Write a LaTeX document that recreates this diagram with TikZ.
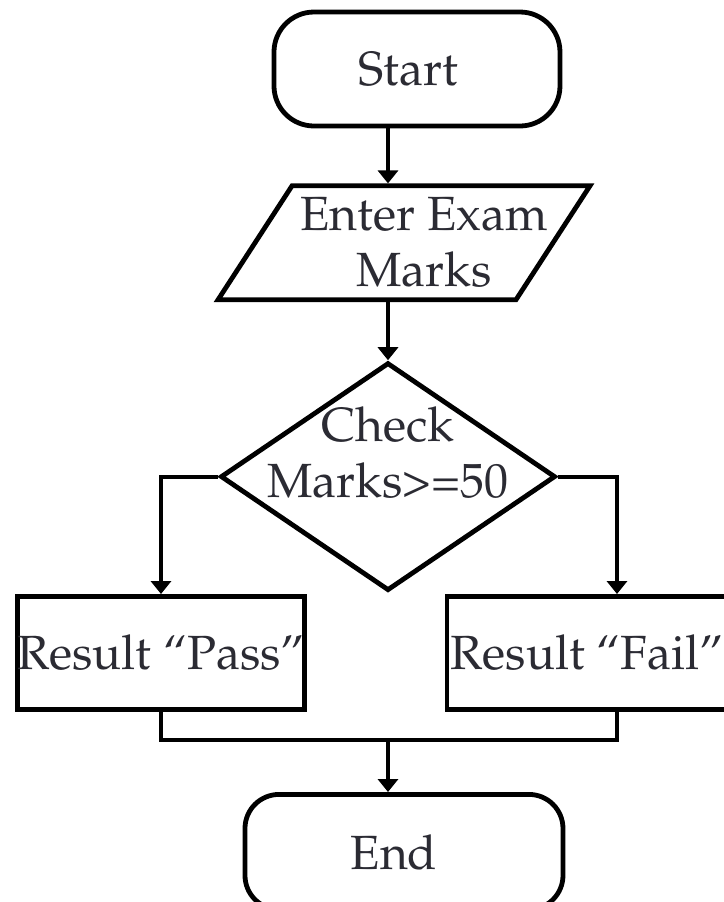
\documentclass[tikz,border=0pt]{standalone}
\usepackage[T1]{fontenc}
\usepackage{mathpazo}
\usetikzlibrary{positioning}
\usetikzlibrary{arrows.meta}
\usetikzlibrary{shapes}
\definecolor{ink}{HTML}{2B2B33}
\tikzset{basic/.style={draw,line width=2.4pt,fill=white,text=ink}}
\tikzset{terminal/.style={basic,rectangle,rounded corners=20pt,minimum width=143pt,minimum height=57pt}}
\tikzset{io/.style={basic,trapezium,trapezium left angle=57,trapezium right angle=123,trapezium stretches body=true,inner xsep=0pt,inner ysep=28.5pt,minimum width=186pt}}
\tikzset{decision/.style={basic,diamond,minimum width=167.5pt,minimum height=114pt,inner sep=0pt}}
\tikzset{process/.style={basic,rectangle,inner xsep=0pt,minimum width=143pt,minimum height=56.5pt}}
\tikzset{flow/.style={line width=1.9pt,-{Triangle[width=10pt,length=6.5pt]}}}
\tikzset{link/.style={line width=1.9pt}}

\begin{document}
\begin{tikzpicture}[font=\fontsize{24pt}{28pt}\selectfont]
    \useasboundingbox (-208.5pt,34.5pt) rectangle (153.5pt,-416.5pt);
    \clip (-208.5pt,34.5pt) rectangle (153.5pt,-416.5pt);
    \node[terminal,label={[text=ink,xshift=-4.5pt]center:Start}] (start) {};
    \node[io,below=27.5pt of start,xshift=-6.5pt,label={[align=center,text=ink,xshift=10pt]center:Enter Exam\\Marks}] (enter) {};
    \node[decision,below=29pt of enter,xshift=-8pt,label={[align=center,text=ink,yshift=12pt]center:Check\\Marks>=50}] (check) {};
    \node[process,below=0.5pt of check.south,xshift=-113.5pt] (pass) {Result ``Pass''};
    \node[process,below=0.5pt of check.south,xshift=104.5pt,minimum width=150pt,label={[text=ink,xshift=-5pt]center:Result ``Fail''}] (fail) {};
    \node[terminal,below=99.5pt of check.south,xshift=8pt,minimum width=159pt,minimum height=57.5pt,rounded corners=17pt,label={[text=ink,xshift=-5pt]center:End}] (end) {};
    \coordinate[below=14pt of pass.south] (merge);
    \coordinate[above=0pt of fail.north,xshift=10pt] (failin);
        \path[draw,flow] (start.south -| check.north) -- (enter.north -| check.north);
        \path[draw,flow] (enter.south -| check.north) -- (check.north);
        \path[draw,flow] (check.west) -| (pass.north);
        \path[draw,flow] (check.east) -| (failin);
        \path[draw,link] (pass.south) |- (merge) -| (fail.south -| failin);
        \path[draw,flow] (merge -| check.south) -- (end.north -| check.south);
\end{tikzpicture}
\end{document}
